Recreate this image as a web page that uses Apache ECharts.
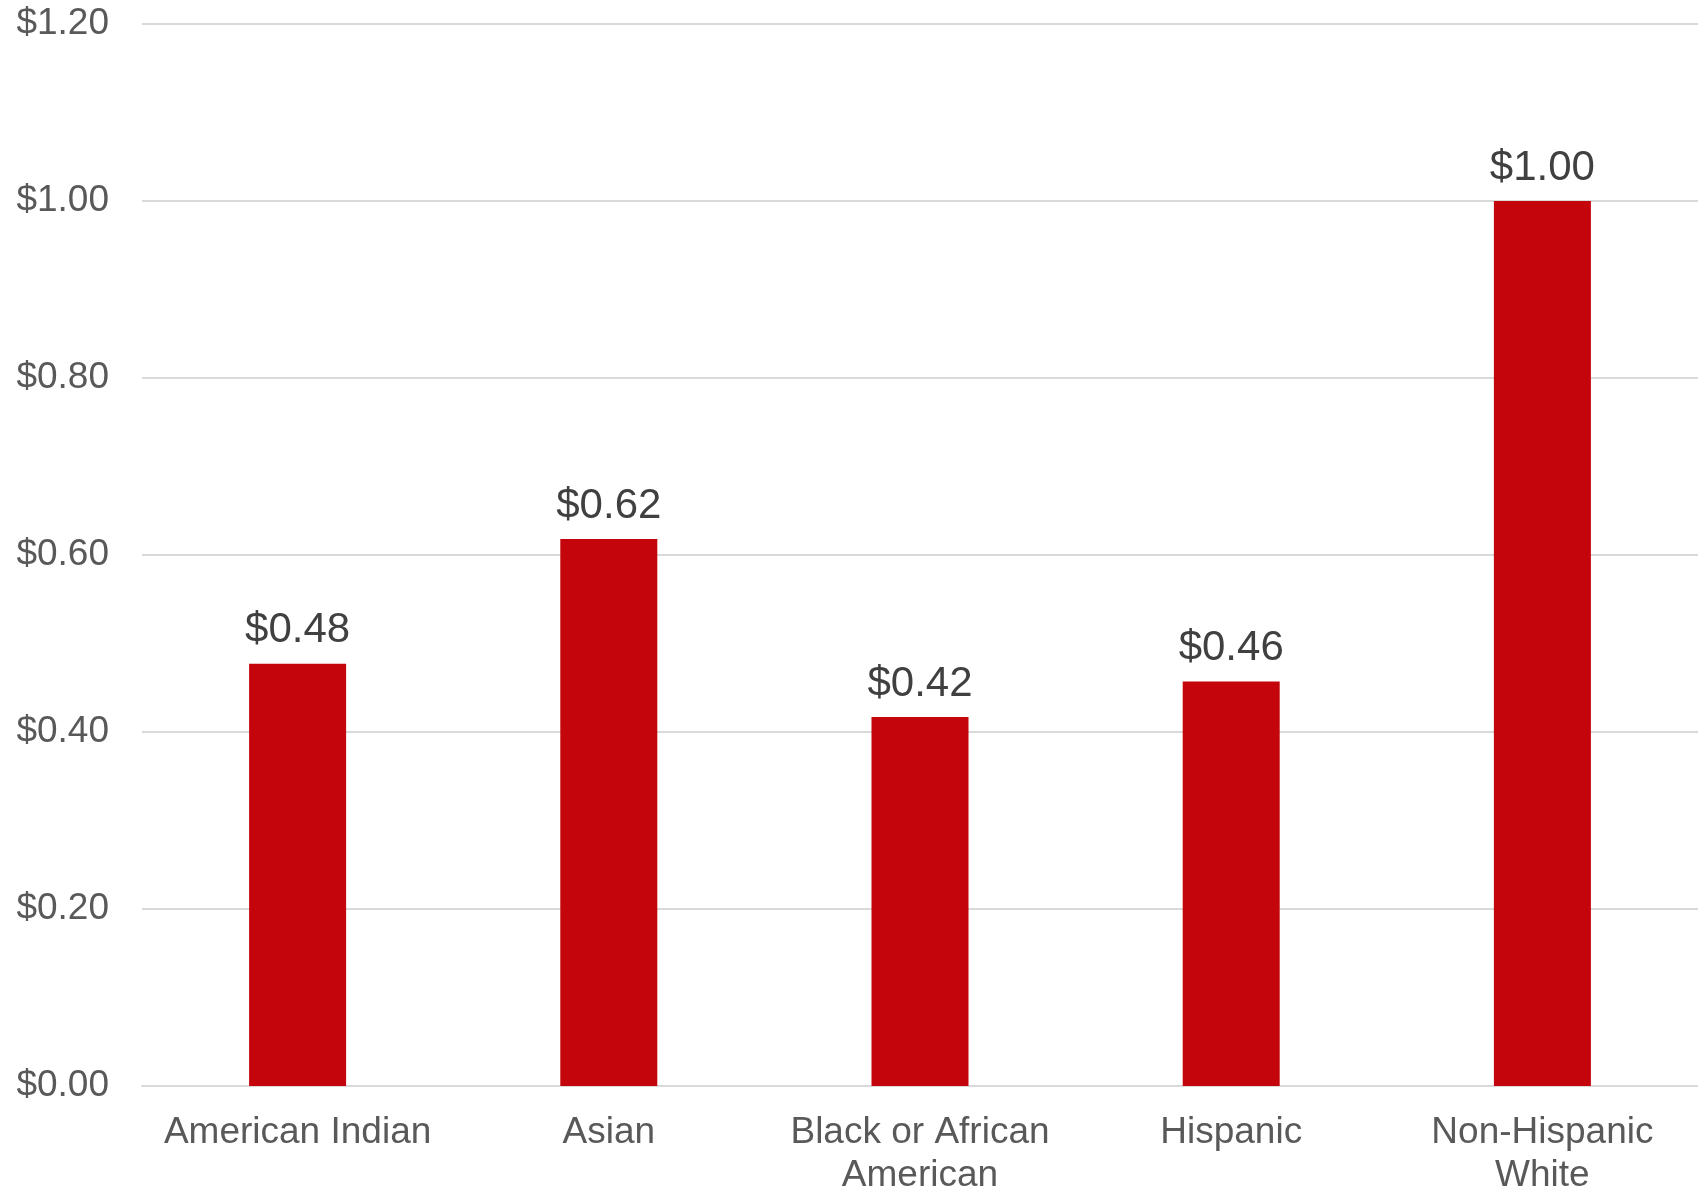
<!DOCTYPE html>
<html lang="en">
<head>
    <meta charset="UTF-8">
    <title>Bar chart</title>
    <style>
        html, body { margin: 0; padding: 0; background: #fff; overflow: hidden; }
        #chart { width: 1698px; height: 1189px; }
    </style>
</head>
<body>
    <div id="chart"></div>
    <script src="https://cdn.jsdelivr.net/npm/echarts@6/dist/echarts.min.js"></script>
    <script>
        // data
        var categories = ['American Indian', 'Asian', 'Black or African\nAmerican', 'Hispanic', 'Non-Hispanic\nWhite'];
        var values = [0.477, 0.618, 0.417, 0.457, 1.00];
        var yTicks = { min: 0, max: 1.2, interval: 0.2 };

        var font = '"Liberation Sans", Arial, sans-serif';
        function money(v) { return '$' + Number(v).toFixed(2); }

        var myChart = echarts.init(document.getElementById('chart'));
        var option = {
            animation: false,
            backgroundColor: '#ffffff',
            grid: { left: 142, right: 0, top: 24, bottom: 103, containLabel: false, outerBoundsMode: 'none' },
            xAxis: {
                type: 'category',
                data: categories,
                axisLine: { show: true, lineStyle: { color: '#d9d9d9', width: 2 } },
                axisTick: { show: false },
                axisLabel: {
                    color: '#595959',
                    fontFamily: font,
                    fontSize: 37,
                    lineHeight: 43,
                    margin: 25,
                    interval: 0
                }
            },
            yAxis: {
                type: 'value',
                min: yTicks.min,
                max: yTicks.max,
                interval: yTicks.interval,
                axisLine: { show: false },
                axisTick: { show: false },
                splitLine: { lineStyle: { color: '#d9d9d9', width: 2 } },
                axisLabel: {
                    color: '#595959',
                    fontFamily: font,
                    fontSize: 37,
                    margin: 33,
                    padding: [8, 0, 0, 0],
                    formatter: money
                }
            },
            series: [{
                type: 'bar',
                data: values,
                barWidth: 97,
                itemStyle: { color: '#c4050c' },
                label: {
                    show: true,
                    position: 'top',
                    distance: 12,
                    color: '#404040',
                    fontFamily: font,
                    fontSize: 42,
                    formatter: function (p) { return money(p.value); }
                }
            }]
        };
        myChart.setOption(option);
    </script>
</body>
</html>
